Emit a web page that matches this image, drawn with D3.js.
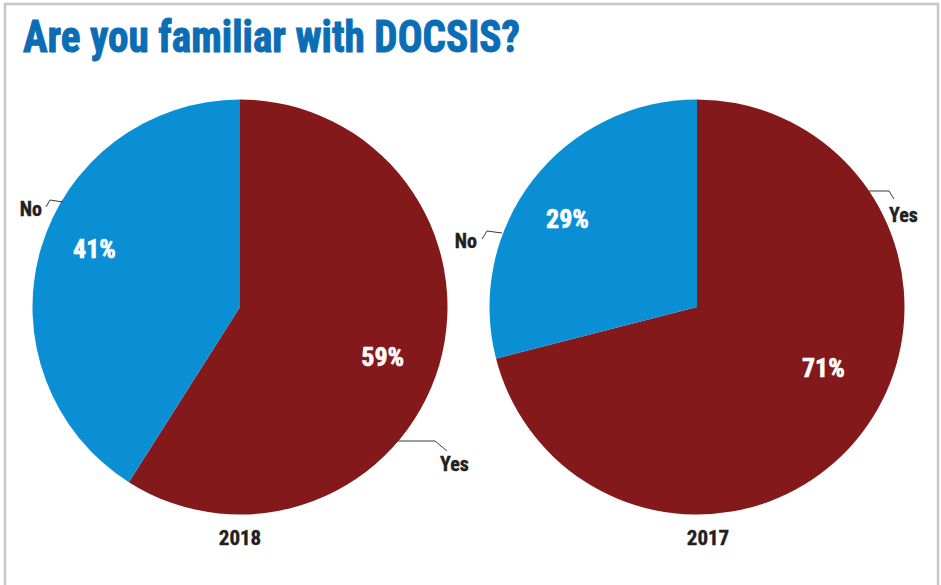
<!DOCTYPE html>
<html>
<head>
<meta charset="utf-8">
<script src="https://cdn.jsdelivr.net/npm/d3@7"></script>
<style>
  html, body { margin: 0; padding: 0; background: #ffffff; }
  svg { display: block; }
  .cond { font-family: "Liberation Sans Narrow", "Arial Narrow", "Roboto Condensed", "Liberation Sans", sans-serif; font-weight: bold; }
</style>
</head>
<body>
<svg id="chart" width="941" height="585"></svg>
<script>
// Survey answers, share of respondents (%)
const answers = ["Yes", "No"];
const years = ["2018", "2017"];
const share2018 = [59, 41];
const share2017 = [71, 29];
const title = "Are you familiar with DOCSIS?";

const W = 941, H = 585;
const svg = d3.select("#chart");

const colour = d3.scaleOrdinal().domain(answers).range(["#84191b", "#0b8fd4"]);

// frame
svg.append("rect")
  .attr("x", 5).attr("y", 4)
  .attr("width", 933).attr("height", H + 10)
  .attr("fill", "none")
  .attr("stroke", "#c6c6ca")
  .attr("stroke-width", 2.5);

svg.append("text")
  .attr("class", "cond")
  .attr("x", 23).attr("y", 52)
  .attr("font-size", 45)
  .attr("fill", "#0a6db5")
  .attr("stroke", "#0a6db5")
  .attr("stroke-width", 1)
  .attr("textLength", 497)
  .attr("lengthAdjust", "spacingAndGlyphs")
  .text(title);

const R = 207.5;
const pie = d3.pie().sort(null).value(d => d.value);
const arc = d3.arc().innerRadius(0).outerRadius(R);

// per-chart placement: centre, inside label spots (angle deg, radius), callouts
const layouts = [
  {
    cx: 240, cy: 307, yearX: 240,
    inside: { Yes: [109, 151], No: [292, 157] },
    callout: {
      Yes: { pts: [[392, 441], [435, 441], [447, 451]], tx: 440, ty: 471, anchor: "start" },
      No:  { pts: [[63, 202], [50, 200], [46, 207]], tx: 42, ty: 216, anchor: "end" }
    }
  },
  {
    cx: 697, cy: 307, yearX: 708,
    inside: { Yes: [115.5, 140], No: [304.4, 157] },
    callout: {
      Yes: { pts: [[869, 191], [889, 191], [894, 199]], tx: 889, ty: 222, anchor: "start" },
      No:  { pts: [[502, 233], [487, 231], [482, 239]], tx: 477, ty: 248, anchor: "end" }
    }
  }
];

const series = [share2018, share2017];

series.forEach((vals, i) => {
  const L = layouts[i];
  const data = answers.map((a, k) => ({ answer: a, value: vals[k] }));
  const g = svg.append("g").attr("transform", `translate(${L.cx},${L.cy})`);
  const arcs = pie(data);

  g.selectAll("path.slice")
    .data(arcs)
    .join("path")
    .attr("class", "slice")
    .attr("d", arc)
    .attr("fill", d => colour(d.data.answer));

  // percentage inside each slice
  g.selectAll("text.pct")
    .data(arcs)
    .join("text")
    .attr("class", "pct cond")
    .attr("transform", d => {
      const [deg, r] = L.inside[d.data.answer];
      const a = deg * Math.PI / 180;
      return `translate(${r * Math.sin(a)},${-r * Math.cos(a)})`;
    })
    .attr("text-anchor", "middle")
    .attr("dy", "0.36em")
    .attr("font-size", 26)
    .attr("fill", "#ffffff")
    .attr("stroke", "#ffffff")
    .attr("stroke-width", 0.6)
    .text(d => d.data.value + "%");

  // callout labels with leader lines
  data.forEach(d => {
    const c = L.callout[d.answer];
    svg.append("path")
      .attr("d", d3.line()(c.pts))
      .attr("fill", "none")
      .attr("stroke", "#3a3a3a")
      .attr("stroke-width", 1);
    svg.append("text")
      .attr("class", "cond")
      .attr("x", c.tx).attr("y", c.ty)
      .attr("text-anchor", c.anchor)
      .attr("font-size", 20)
      .attr("fill", "#231f20")
      .attr("stroke", "#231f20")
      .attr("stroke-width", 0.4)
      .text(d.answer);
  });

  svg.append("text")
    .attr("class", "cond")
    .attr("x", L.yearX).attr("y", 545)
    .attr("text-anchor", "middle")
    .attr("font-size", 21)
    .attr("fill", "#231f20")
    .attr("stroke", "#231f20")
    .attr("stroke-width", 0.4)
    .text(years[i]);
});
</script>
</body>
</html>
